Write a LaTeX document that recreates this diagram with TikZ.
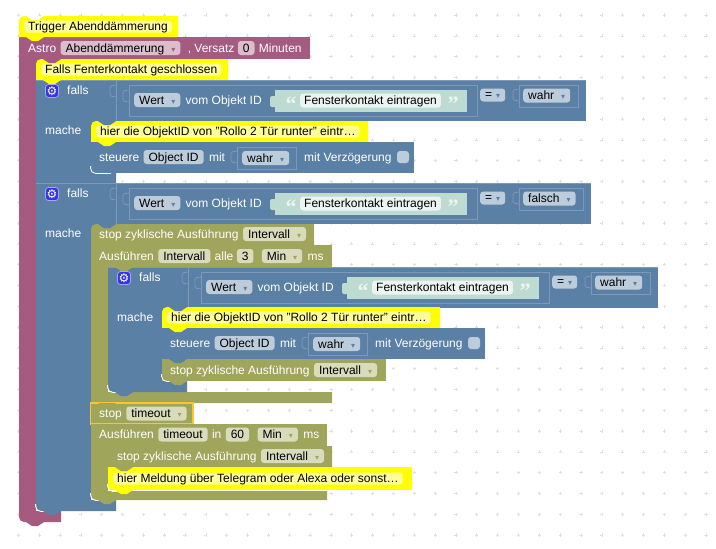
\documentclass[tikz,border=0pt]{standalone}
\usepackage{fontspec}
\setmainfont{Liberation Sans}
\newfontfamily\symfont{DejaVu Sans}
\newfontfamily\quotefont{Liberation Serif}
\usetikzlibrary{positioning}

\definecolor{purpleBk}{HTML}{A55B80}
\definecolor{blueBk}{HTML}{5B80A5}
\definecolor{oliveBk}{HTML}{9FA55B}
\definecolor{purpleFld}{HTML}{DBBDCC}
\definecolor{blueFld}{HTML}{BDCCDB}
\definecolor{oliveFld}{HTML}{D9DBBD}
\definecolor{blueEdge}{HTML}{7D99B7}
\definecolor{noteBk}{HTML}{FFFF00}
\definecolor{noteFld}{HTML}{FFFF99}
\definecolor{stringBk}{HTML}{BEDBD1}
\definecolor{stringFld}{HTML}{ECF4F1}
\definecolor{iconBk}{HTML}{3535DD}
\definecolor{stopEdge}{HTML}{FBC433}

\newcommand{\drop}[1]{\hspace{7pt}{\symfont\fontsize{8}{8}\selectfont\textcolor{#1}{▾}}\hspace{3pt}}
% x1, y1, x2, y2 block with a round upper left corner
\newcommand{\topblock}[5]{\fill[#1] [rounded corners=5pt] (#2,#5) -- (#2,#3) [sharp corners] -- (#4,#3) -- (#4,#5) -- cycle;}
% spine and foot of a statement block
\newcommand{\cblock}[8][0pt]{
    \fill[#2] (#3,#4) [rounded corners=#1] -- (#3,#8) [sharp corners] -- (#7,#8) -- (#7,#6) -- (#5,#6) -- (#5,#4) -- cycle;
    \fill[#2] (#5,#4) rectangle +(6,6);
}
% puzzle tab on the left of a value
\newcommand{\socket}[2]{\draw[edge, rounded corners=1.5pt] (#1,#2) -- (#1-6,#2+1) -- (#1-6,#2+11) -- (#1,#2+12);}
% yellow comment block
\newcommand{\notebox}[7][5pt]{
    \fill[noteBk] [rounded corners=#1] (#3,#6) -- (#3,#4) [sharp corners] -- (#5,#4) -- (#5,#6) -- cycle;
    \node[notefld, anchor=west] (#2) at (#3+5,#4/2+#6/2) {#7};
}
\newcommand{\fallsblock}[5]{
    \begin{scope}[shift={(#2,#3)}]
        \fill[blueBk] (0,0) rectangle (#5+8,41);
        \draw[edge] (0,0.4) -- (#5+8,0.4);
        \draw[edge] (80,0) -- (80,41);
        \node[icon] (#1Icon) at (16,11) {⚙};
        \node[lbl, anchor=west] (#1Falls) at (31,10) {falls};
        \node[lbl, anchor=west] (#1Mache) at (9,50) {mache};
        \socket{80}{5}
        \draw[edge] (93,5) rectangle (441,36);
        \socket{93}{10}
        \node[fldb, anchor=west] (#1Wert) at (98,20) {Wert\drop{blueBk}};
        \node[lbl, right=5pt of #1Wert] (#1Vom) {vom Objekt ID};
        \fill[stringBk, rounded corners=2pt] (234,16) rectangle (242,27);
        \fill[stringBk] (239,10) rectangle (431,32);
        \node[quot] (#1Open) at (255,31) {“};
        \node[strfld, anchor=west] (#1Text) at (264,20.5) {Fensterkontakt eintragen};
        \node[quot] (#1Close) at (417,31) {”};
        \node[fldb, anchor=west, text height=9pt, text depth=2pt] (#1Op) at (444,15) {=\hspace{4pt}{\symfont\fontsize{8}{8}\selectfont\textcolor{blueBk}{▾}}\hspace{2pt}};
        \socket{483}{9}
        \draw[edge] (483,5) rectangle (#5,27);
        \node[fldb, anchor=west] (#1Val) at (487,15.5) {#4\drop{blueBk}};
    \end{scope}
}
\newcommand{\steuerbox}[3]{
    \begin{scope}[shift={(#2,#3)}]
        \fill[blueBk] (0,0) rectangle (323,31);
        \node[lbl, anchor=west] (#1Label) at (8,15) {steuere};
        \node[fldb, right=4pt of #1Label] (#1Id) {Object ID};
        \node[lbl, right=5pt of #1Id] (#1Mit) {mit};
        \socket{146}{9}
        \draw[edge] (146,5) rectangle (205,27);
        \node[fldb, anchor=west] (#1Val) at (151,16) {wahr\drop{blueBk}};
        \node[lbl, anchor=west] (#1Delay) at (213,15) {mit Verzögerung};
        \node[check] (#1Check) at (312,15) {};
    \end{scope}
}

\begin{document}
\begin{tikzpicture}[x=1pt, y=-1pt, font=\fontsize{12}{14}\selectfont]
    \tikzstyle{lbl} = [inner sep=0pt, text=white, text height=10pt, text depth=2pt]
    \tikzstyle{fld} = [rectangle, rounded corners=3pt, inner xsep=5pt, inner ysep=1pt, text=black, text height=10pt, text depth=2pt]
    \tikzstyle{fldp} = [fld, fill=purpleFld]
    \tikzstyle{fldb} = [fld, fill=blueFld]
    \tikzstyle{fldo} = [fld, fill=oliveFld]
    \tikzstyle{notefld} = [fld, fill=noteFld, inner xsep=4pt, inner ysep=0pt]
    \tikzstyle{strfld} = [fld, fill=stringFld, inner xsep=4pt, inner ysep=1pt]
    \tikzstyle{edge} = [draw=blueEdge, line width=0.8pt]
    \tikzstyle{icon} = [rectangle, rounded corners=3pt, fill=iconBk, draw=blue!35!white, line width=0.8pt, minimum size=13pt, inner sep=0pt, text=white, font=\symfont\fontsize{12}{12}\selectfont]
    \tikzstyle{check} = [rectangle, rounded corners=3pt, fill=blueFld, minimum size=12pt, inner sep=0pt]
    \tikzstyle{quot} = [anchor=base, inner sep=0pt, text=stringFld, font=\quotefont\bfseries\fontsize{22}{22}\selectfont]

    \useasboundingbox (0,0) rectangle (716,549);

    %workspace grid
    \foreach \i in {0,...,33} {
        \foreach \j in {0,...,25} {
            \draw[black!12, line width=0.6pt] (18.3+\i*20.84-1.6,15+\j*20.8) -- +(3.2,0);
            \draw[black!12, line width=0.6pt] (18.3+\i*20.84,15+\j*20.8-1.6) -- +(0,3.2);
        }
    }

    %astro block
    \fill[purpleBk] (19,37) rectangle (310,59);
    \cblock[5pt]{purpleBk}{19}{59}{36}{511}{61}{522}

    %trigger comment
    \notebox{trigger}{19}{16}{178}{37}{Trigger Abenddämmerung}
    \node[lbl, anchor=west] (astro) at (28,48) {Astro};
    \node[fldp, right=4pt of astro] (astroEvent) {Abenddämmerung\drop{purpleBk}};
    \node[lbl, right=7pt of astroEvent] (astroOffset) {, Versatz};
    \node[fldp, right=3pt of astroOffset] (astroZero) {0};
    \node[lbl, right=4pt of astroZero] (astroUnit) {Minuten};

    %first if, contact closed
    \notebox{fallsNote}{36}{59}{228}{80}{Falls Fenterkontakt geschlossen}
    \cblock{blueBk}{36}{121}{91}{173}{116}{183}
    \fallsblock{first}{36}{80}{wahr}{542}
    \notebox{firstNote}{91}{121}{368}{142}{hier die ObjektID von "Rollo 2 Tür runter" eintr…}
    \steuerbox{firstSet}{91}{142}
    \draw[edge] (36,183.4) -- (116,183.4);

    %second if, contact open
    \cblock[5pt]{blueBk}{36}{224}{91}{500}{116}{511}
    \fallsblock{second}{36}{183}{falsch}{547}

    \topblock{oliveBk}{91}{224}{314}{245}
    \node[lbl, anchor=west] (stopFirst) at (99,234) {stop zyklische Ausführung};
    \node[fldo, right=4pt of stopFirst] (stopFirstName) {Intervall\drop{oliveBk}};

    %interval timer
    \fill[oliveBk] (91,245) rectangle (332,267);
    \cblock{oliveBk}{91}{267}{108}{392}{332}{403}
    \node[lbl, anchor=west] (everyLabel) at (99,256) {Ausführen};
    \node[fldo, right=4pt of everyLabel] (everyName) {Intervall};
    \node[lbl, right=4pt of everyName] (everyAlle) {alle};
    \node[fldo, right=3pt of everyAlle] (everyThree) {3};
    \node[fldo, right=8pt of everyThree] (everyUnit) {Min\drop{oliveBk}};
    \node[lbl, right=5pt of everyUnit] (everyMs) {ms};

    %if inside the timer
    \cblock[5pt]{blueBk}{108}{307}{162}{381}{187}{392}
    \fallsblock{third}{108}{267}{wahr}{542}
    \notebox{thirdNote}{162}{307}{440}{328}{hier die ObjektID von "Rollo 2 Tür runter" eintr…}
    \steuerbox{thirdSet}{162}{328}
    \fill[oliveBk] (162,359) rectangle (386,381);
    \node[lbl, anchor=west] (stopThird) at (170,370) {stop zyklische Ausführung};
    \node[fldo, right=4pt of stopThird] (stopThirdName) {Intervall\drop{oliveBk}};

    %stop timeout
    \fill[oliveBk] (91,403) rectangle (193,424);
    \draw[draw=stopEdge, line width=1.5pt] (90.5,403) rectangle (193,424);
    \node[lbl, anchor=west] (stopTimeout) at (99,413.5) {stop};
    \node[fldo, right=4pt of stopTimeout] (stopTimeoutName) {timeout\drop{oliveBk}};

    %timeout timer
    \fill[oliveBk] (91,424) rectangle (327,446);
    \cblock[5pt]{oliveBk}{91}{446}{108}{491}{327}{500}
    \node[lbl, anchor=west] (inLabel) at (99,434.5) {Ausführen};
    \node[fldo, right=4pt of inLabel] (inName) {timeout};
    \node[lbl, right=4pt of inName] (inIn) {in};
    \node[fldo, right=4pt of inIn] (inSixty) {60};
    \node[fldo, right=8pt of inSixty] (inUnit) {Min\drop{oliveBk}};
    \node[lbl, right=5pt of inUnit] (inMs) {ms};

    \topblock{oliveBk}{108}{446}{332}{467}
    \node[lbl, anchor=west] (stopLast) at (117,456) {stop zyklische Ausführung};
    \node[fldo, right=4pt of stopLast] (stopLastName) {Intervall\drop{oliveBk}};
    \notebox[0pt]{lastNote}{108}{467}{412}{490}{hier Meldung über Telegram oder Alexa oder sonst…}

    %white rims in the inner corners
    \foreach \x/\y/\w in {91/173/20, 162/381/14, 108/392/14, 91/500/12, 108/491/14, 36/511/12} {
        \draw[white, line width=0.8pt, rounded corners=5pt] (\x-0.4,\y-7) -- (\x-0.4,\y+0.4) -- (\x+\w,\y+0.4);
    }

    %connection bumps
    \foreach \col/\x/\y in {white/19/16, noteBk/19/37, purpleBk/36/59, noteBk/36/80, blueBk/91/121, noteBk/91/142, blueBk/36/173,
            blueBk/91/224, oliveBk/108/267, blueBk/162/307, noteBk/162/328, blueBk/162/359, oliveBk/162/381,
            blueBk/108/392, oliveBk/91/403, oliveBk/108/467, noteBk/108/490, oliveBk/91/500, blueBk/36/511, purpleBk/19/522} {
        \fill[\col] (\x+7,\y) -- (\x+13,\y+4) -- (\x+19,\y+4) -- (\x+25,\y) -- cycle;
    }
\end{tikzpicture}
\end{document}
